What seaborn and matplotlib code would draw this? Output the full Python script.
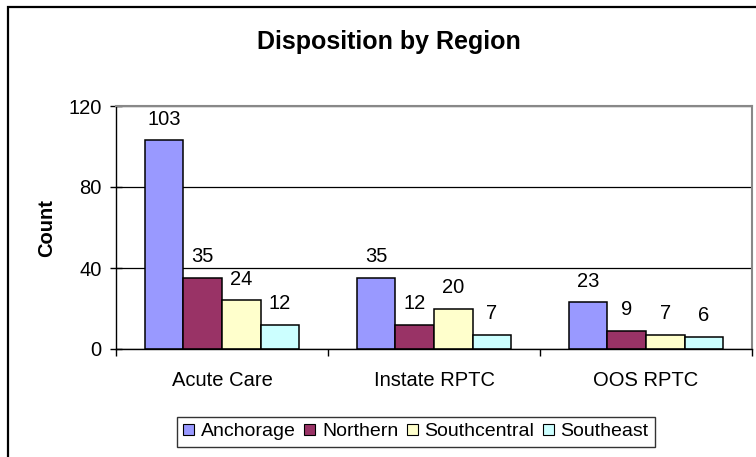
import matplotlib
matplotlib.use("Agg")
import matplotlib.pyplot as plt
import matplotlib.patches as mpatches
from matplotlib.ticker import FixedLocator
import pandas as pd
import seaborn as sns

# -----------------------------
# Data
# -----------------------------
categories = ["Acute Care", "Instate RPTC", "OOS RPTC"]
regions = ["Anchorage", "Northern", "Southcentral", "Southeast"]
anchorage = [103, 35, 23]
northern = [35, 12, 9]
southcentral = [24, 20, 7]
southeast = [12, 7, 6]
y_ticks = [0, 40, 80, 120]

region_colors = ["#9999FF", "#993366", "#FFFFCC", "#CCFFFF"]

rows = []
for region, values in zip(regions, [anchorage, northern, southcentral, southeast]):
    for cat, v in zip(categories, values):
        rows.append({"disposition": cat, "region": region, "count": v})
df = pd.DataFrame(rows)

# -----------------------------
# Style
# -----------------------------
sns.set_style("white")
plt.rcParams["font.family"] = ["Liberation Sans", "DejaVu Sans"]
plt.rcParams["text.color"] = "black"
plt.rcParams["axes.labelcolor"] = "black"
plt.rcParams["xtick.color"] = "black"
plt.rcParams["ytick.color"] = "black"

W, H = 756, 457
fig = plt.figure(figsize=(W / 100, H / 100), dpi=100)
ax = fig.add_axes([116 / W, 1 - 349 / H, (752 - 116) / W, (349 - 106) / H])

sns.barplot(data=df, x="disposition", y="count", hue="region", order=categories,
            hue_order=regions, palette=region_colors, saturation=1, width=0.727,
            edgecolor="black", linewidth=1.1, ax=ax)

for container in ax.containers:
    ax.bar_label(container, padding=8.5, fontsize=14.5, color="black")

ax.set_xlim(-0.5, 2.5)
ax.set_ylim(0, 120)
ax.set_yticks(y_ticks)
ax.set_xlabel("")
ax.set_ylabel("")
ax.tick_params(axis="y", labelsize=14.5, length=8.6, width=1, direction="inout", pad=6,
               left=True, color="black", labelcolor="black")
ax.tick_params(axis="x", which="major", labelsize=14.5, length=0, pad=16, labelcolor="black")
ax.xaxis.set_minor_locator(FixedLocator([-0.5, 0.5, 1.5, 2.5]))
ax.tick_params(axis="x", which="minor", length=5, width=1, direction="out", bottom=True, color="black")

ax.yaxis.grid(True, color="black", linewidth=0.9)
ax.set_axisbelow(True)
for side in ["top", "right"]:
    ax.spines[side].set_color("#888888")
    ax.spines[side].set_linewidth(1.5)
for side in ["left", "bottom"]:
    ax.spines[side].set_color("black")
    ax.spines[side].set_linewidth(1)

# legend
handles = [mpatches.Patch(facecolor=c, edgecolor="black", linewidth=0.8) for c in region_colors]
ax.legend_.remove()
leg = fig.legend(handles, regions, loc="center", bbox_to_anchor=(416 / W, 1 - 432 / H), ncol=4,
                 fontsize=14, frameon=True, fancybox=False, handlelength=0.55, handleheight=0.5,
                 handletextpad=0.35, columnspacing=0.45, borderpad=0.35, borderaxespad=0)
leg.get_frame().set_edgecolor("black")
leg.get_frame().set_linewidth(1)
for t in leg.get_texts():
    t.set_color("black")

# titles
fig.text(389 / W, 1 - 49.5 / H, "Disposition by Region", ha="center", va="baseline",
         fontsize=18, fontweight="bold", color="black")
fig.text(52 / W, 1 - 228 / H, "Count", ha="center", va="baseline", rotation=90,
         rotation_mode="anchor", fontsize=14.5, fontweight="bold", color="black")

# chart border
fig.patches.append(mpatches.Rectangle((8 / W, -0.1), 1.2, 1.1 - 7 / H, transform=fig.transFigure,
                                      fill=False, edgecolor="black", linewidth=1.6))

fig.savefig("out.png", dpi=100)
